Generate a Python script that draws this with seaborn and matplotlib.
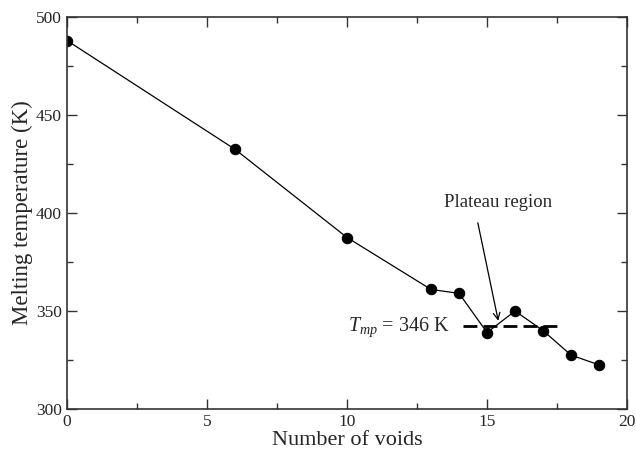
import matplotlib
matplotlib.use("Agg")
import matplotlib.pyplot as plt
import seaborn as sns
import pandas as pd
from matplotlib.ticker import MultipleLocator

voids = [0, 6, 10, 13, 14, 15, 16, 17, 18, 19]
melt_T = [488, 432.5, 387.5, 361, 359, 339, 350, 340, 327.5, 322.5]
plateau_level = 342.5
plateau_x = [14.15, 17.65]

sns.set_theme(style="ticks")
plt.rcParams['font.family'] = ['Liberation Serif', 'DejaVu Serif']
plt.rcParams['mathtext.fontset'] = 'custom'
plt.rcParams['mathtext.it'] = 'Liberation Serif:italic'
plt.rcParams['mathtext.rm'] = 'Liberation Serif'

fig = plt.figure(figsize=(6.36, 4.5), dpi=100)
ax = fig.add_axes([0.1053, 0.0911, 0.8807, 0.8711])

df = pd.DataFrame({"voids": voids, "T": melt_T})
sns.lineplot(data=df, x="voids", y="T", ax=ax, color="black", linewidth=0.9,
             marker="o", markersize=7.5, markeredgecolor="black", markerfacecolor="black")

ax.plot(plateau_x, [plateau_level, plateau_level], color="black", lw=2.0,
        dashes=(5, 2.2))

ax.text(15.38, 405.5, "Plateau region", ha="center", va="center", fontsize=13.5)
ax.annotate("", xy=(15.4, 345), xytext=(14.67, 395),
            arrowprops=dict(arrowstyle="->", color="black", lw=0.9,
                            shrinkA=0, shrinkB=0, mutation_scale=12))
ax.text(13.68, 341.5, r"$T_{mp}$ = 346 K", ha="right", va="center", fontsize=14.5)

ax.set_xlim(0, 20)
ax.set_ylim(300, 500)
ax.xaxis.set_major_locator(MultipleLocator(5))
ax.xaxis.set_minor_locator(MultipleLocator(2.5))
ax.yaxis.set_major_locator(MultipleLocator(50))
ax.yaxis.set_minor_locator(MultipleLocator(25))
ax.tick_params(which="both", direction="in", top=True, right=True, labelsize=12.5,
               color="#333333", width=1.0)
ax.tick_params(which="major", length=7)
ax.tick_params(which="minor", length=4)
for s in ax.spines.values():
    s.set_linewidth(1.2)
    s.set_color("#333333")
ax.set_xlabel("Number of voids", fontsize=16, labelpad=0.5)
ax.set_ylabel("Melting temperature (K)", fontsize=16.5, labelpad=2)

fig.savefig("out.png", dpi=100)
